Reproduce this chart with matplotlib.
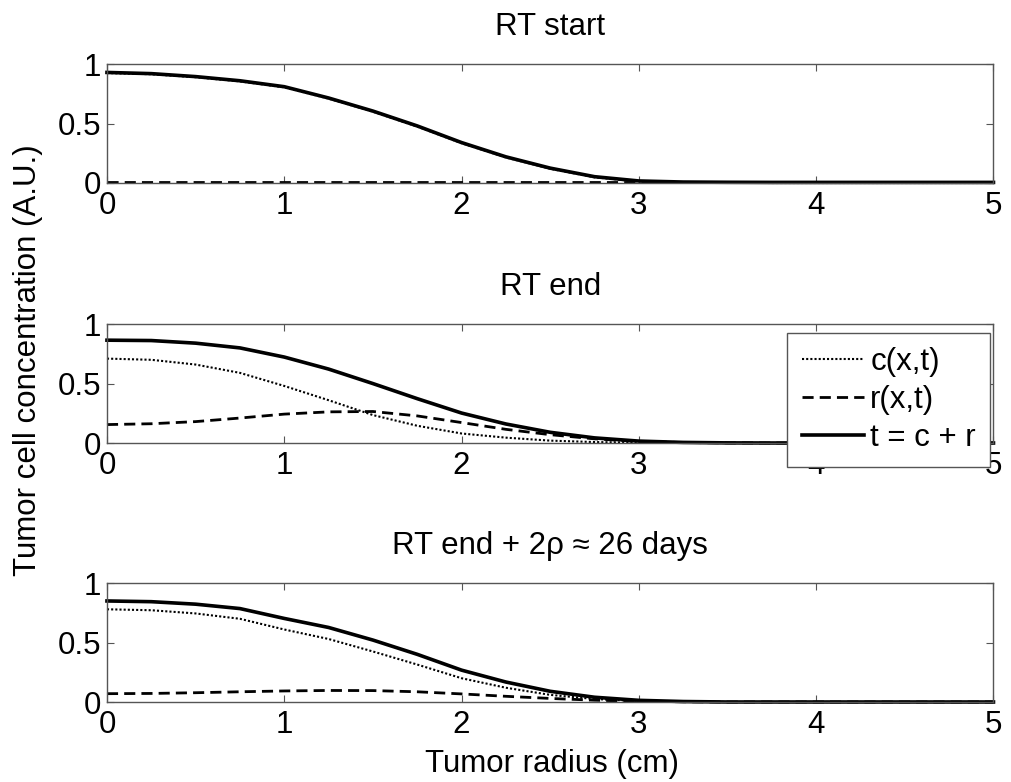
import matplotlib
matplotlib.use("Agg")
import matplotlib.pyplot as plt
import numpy as np

plt.rcParams['font.family'] = ['Liberation Sans', 'DejaVu Sans']

# radial grid (cm)
radius = [0.0, 0.25, 0.5, 0.75, 1.0, 1.25, 1.5, 1.75, 2.0, 2.25, 2.5,
          2.75, 3.0, 3.25, 3.5, 3.75, 4.0, 4.25, 4.5, 4.75, 5.0]

# RT start
c_start = [0.925, 0.915, 0.89, 0.855, 0.805, 0.71, 0.60, 0.475, 0.335, 0.215, 0.12,
           0.048, 0.012, 0.003, 0.001, 0.0, 0.0, 0.0, 0.0, 0.0, 0.0]
r_start = [0.005, 0.005, 0.005, 0.005, 0.005, 0.005, 0.005, 0.005, 0.005, 0.005, 0.005,
           0.005, 0.005, 0.005, 0.005, 0.005, 0.005, 0.005, 0.005, 0.005, 0.005]

# RT end
c_end = [0.71, 0.70, 0.66, 0.59, 0.48, 0.36, 0.235, 0.145, 0.08, 0.045, 0.02,
         0.008, 0.003, 0.001, 0.0, 0.0, 0.0, 0.0, 0.0, 0.0, 0.0]
r_end = [0.155, 0.162, 0.18, 0.21, 0.243, 0.262, 0.265, 0.228, 0.172, 0.115, 0.07,
         0.035, 0.013, 0.004, 0.001, 0.0, 0.0, 0.0, 0.0, 0.0, 0.0]

# RT end + 2 rho
c_late = [0.78, 0.772, 0.745, 0.70, 0.61, 0.53, 0.425, 0.315, 0.20, 0.12, 0.06,
          0.025, 0.008, 0.002, 0.0, 0.0, 0.0, 0.0, 0.0, 0.0, 0.0]
r_late = [0.07, 0.072, 0.078, 0.086, 0.093, 0.097, 0.096, 0.086, 0.068, 0.048, 0.03,
          0.015, 0.006, 0.002, 0.0, 0.0, 0.0, 0.0, 0.0, 0.0, 0.0]

titles = ["RT start", "RT end", "RT end + 2\u03c1 \u2248 26 days"]
panels = [(c_start, r_start), (c_end, r_end), (c_late, r_late)]

fig = plt.figure(figsize=(10.12, 7.82), dpi=100)
bottoms = [0.766, 0.4335, 0.1023]
fs = 22.5
for b, title, (c, r) in zip(bottoms, titles, panels):
    ax = fig.add_axes([0.1057, b, 0.876, 0.152])
    c = np.array(c)
    r = np.array(r)
    lc, = ax.plot(radius, c, color='k', lw=1.5, ls=(0, (1, 1)), clip_on=False, label='c(x,t)')
    lr, = ax.plot(radius, r, color='k', lw=2.0, ls=(0, (4, 2.2)), clip_on=False, label='r(x,t)')
    lt, = ax.plot(radius, c + r, color='k', lw=2.6, clip_on=False, label='t = c + r')
    ax.set_xlim(0, 5)
    ax.set_ylim(0, 1)
    ax.set_xticks([0, 1, 2, 3, 4, 5])
    ax.set_yticks([0, 0.5, 1])
    ax.set_yticklabels(['0', '0.5', '1'])
    ax.tick_params(direction='in', length=5, width=0.8, color='#555555',
                   labelsize=fs, top=True, right=True)
    ax.tick_params(axis='x', pad=6)
    ax.tick_params(axis='y', pad=4)
    for s in ax.spines.values():
        s.set_color('#555555')
        s.set_linewidth(1.0)
    ax.set_title(title, fontsize=fs, pad=21)

leg = fig.legend(handles=[lc, lr, lt], loc='upper right',
                 bbox_to_anchor=(990 / 1012, 1 - 333 / 782), borderaxespad=0,
                 fontsize=fs, fancybox=False, framealpha=1, edgecolor='#555555',
                 handlelength=2.0, handletextpad=0.2, labelspacing=0.25,
                 borderpad=0.45)
leg.get_frame().set_linewidth(1.0)

fig.text(0.028, 0.54, "Tumor cell concentration (A.U.)", rotation=90,
         ha='center', va='center', fontsize=fs)
fig.text(0.545, 0.0128, "Tumor radius (cm)", ha='center', va='baseline', fontsize=fs)

fig.savefig("out.png", dpi=100)
